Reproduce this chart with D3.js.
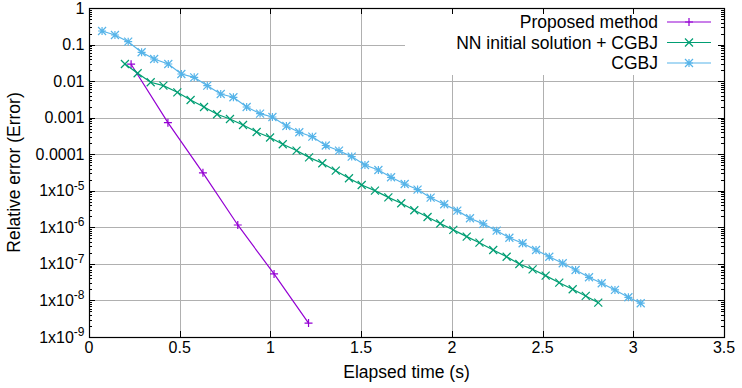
<!DOCTYPE html>
<html>
<head>
<meta charset="utf-8">
<script src="https://cdn.jsdelivr.net/npm/d3@7"></script>
<style>
  body { margin: 0; background: #fff; }
  svg { display: block; font-family: "Liberation Sans", Arial, sans-serif; }
</style>
</head>
<body>
<div id="chart"></div>
<script>
// Series: [elapsed time (s), relative error]
const proposed = [
  [0.232, 0.029], [0.435, 7.3e-4], [0.628, 3.1e-5],
  [0.82, 1.16e-6], [1.02, 5.3e-8], [1.21, 2.4e-9]
];

const nnCgbj = [
  [0.198, 0.0294], [0.268, 0.01637], [0.340, 0.00929], [0.410, 0.0075],
  [0.487, 0.00494], [0.560, 0.00305], [0.634, 0.00196], [0.706, 0.00124],
  [0.777, 9.2e-4], [0.849, 6.3e-4], [0.924, 4.06e-4], [0.998, 2.87e-4],
  [1.068, 1.87e-4], [1.144, 1.26e-4], [1.213, 8.2e-5], [1.286, 5.65e-5],
  [1.360, 3.55e-5], [1.433, 2.2e-5], [1.503, 1.44e-5], [1.576, 1.01e-5],
  [1.650, 6.6e-6], [1.721, 4.55e-6], [1.793, 2.93e-6], [1.866, 1.92e-6],
  [1.936, 1.27e-6], [2.008, 8.5e-7], [2.082, 5.56e-7], [2.152, 3.8e-7],
  [2.228, 2.4e-7], [2.302, 1.57e-7], [2.372, 9.95e-8], [2.445, 7.1e-8],
  [2.517, 4.77e-8], [2.592, 3.06e-8], [2.666, 2.02e-8], [2.738, 1.33e-8],
  [2.807, 8.7e-9]
];

const cgbj = [
  [0.072, 0.235], [0.143, 0.1826], [0.216, 0.1198], [0.290, 0.0614],
  [0.359, 0.0403], [0.437, 0.0294], [0.509, 0.01566], [0.580, 0.0127],
  [0.652, 0.0075], [0.726, 0.00444], [0.796, 0.00361], [0.869, 0.00196],
  [0.943, 0.00129], [1.011, 0.001044], [1.088, 5.92e-4], [1.159, 3.98e-4],
  [1.231, 3.02e-4], [1.305, 1.73e-4], [1.378, 1.25e-4], [1.448, 8.6e-5],
  [1.521, 5.08e-5], [1.595, 3.7e-5], [1.665, 2.34e-5], [1.740, 1.53e-5],
  [1.811, 1.08e-5], [1.883, 6.47e-6], [1.958, 4.27e-6], [2.030, 2.86e-6],
  [2.100, 1.77e-6], [2.173, 1.24e-6], [2.247, 8.1e-7], [2.317, 5.2e-7],
  [2.390, 3.66e-7], [2.464, 2.4e-7], [2.537, 1.57e-7], [2.611, 1.04e-7],
  [2.682, 6.8e-8], [2.756, 4.3e-8], [2.826, 2.95e-8], [2.899, 1.94e-8],
  [2.973, 1.22e-8], [3.041, 8.4e-9]
];

const xTicks = [0, 0.5, 1, 1.5, 2, 2.5, 3, 3.5];
const yTicks = [1, 0.1, 0.01, 0.001, 0.0001, 1e-5, 1e-6, 1e-7, 1e-8, 1e-9];
// [base text, superscript]
const yTickLabels = [
  ['1', ''], ['0.1', ''], ['0.01', ''], ['0.001', ''], ['0.0001', ''],
  ['1x10', '-5'], ['1x10', '-6'], ['1x10', '-7'], ['1x10', '-8'], ['1x10', '-9']
];

const series = [
  { name: 'Proposed method', data: proposed, color: '#9400d3', marker: 'plus' },
  { name: 'NN initial solution + CGBJ', data: nnCgbj, color: '#009e73', marker: 'cross' },
  { name: 'CGBJ', data: cgbj, color: '#56b4e9', marker: 'star' }
];

const W = 742, H = 388;
const margin = { top: 8, right: 18, bottom: 51, left: 89 };
const width = W - margin.left - margin.right;
const height = H - margin.top - margin.bottom;

const svg = d3.select('#chart').append('svg')
  .attr('width', W)
  .attr('height', H);

const g = svg.append('g')
  .attr('transform', `translate(${margin.left},${margin.top})`);

const x = d3.scaleLinear().domain([0, 3.5]).range([0, width]);
const y = d3.scaleLog().domain([1e-9, 1]).range([height, 0]);

const px = v => Math.round(x(v)) + 0.5;
const py = v => Math.round(y(v)) + 0.5;

// Grid
g.append('g').selectAll('line')
  .data(xTicks.slice(1, -1))
  .enter().append('line')
  .attr('x1', d => px(d)).attr('x2', d => px(d))
  .attr('y1', 0).attr('y2', height)
  .attr('stroke', '#b0b0b0').attr('stroke-width', 1);

g.append('g').selectAll('line')
  .data(yTicks.slice(1, -1))
  .enter().append('line')
  .attr('x1', 0).attr('x2', width)
  .attr('y1', d => py(d)).attr('y2', d => py(d))
  .attr('stroke', '#b0b0b0').attr('stroke-width', 1);

// Legend background hides grid behind the key
g.append('rect')
  .attr('x', 316).attr('y', 0)
  .attr('width', width - 316).attr('height', 67)
  .attr('fill', '#fff');

// Ticks (inward, mirrored)
const tickG = g.append('g').attr('stroke', '#000').attr('stroke-width', 1);
xTicks.forEach(t => {
  tickG.append('line').attr('x1', px(t)).attr('x2', px(t)).attr('y1', height).attr('y2', height - 6);
  tickG.append('line').attr('x1', px(t)).attr('x2', px(t)).attr('y1', 0).attr('y2', 6);
});
const minorY = [];
for (let e = -9; e < 0; e++) for (let k = 2; k <= 9; k++) minorY.push(k * Math.pow(10, e));
yTicks.forEach(t => {
  tickG.append('line').attr('x1', 0).attr('x2', 6).attr('y1', py(t)).attr('y2', py(t));
  tickG.append('line').attr('x1', width).attr('x2', width - 6).attr('y1', py(t)).attr('y2', py(t));
});
minorY.forEach(t => {
  tickG.append('line').attr('x1', 0).attr('x2', 3).attr('y1', py(t)).attr('y2', py(t));
  tickG.append('line').attr('x1', width).attr('x2', width - 3).attr('y1', py(t)).attr('y2', py(t));
});

// Frame
g.append('rect')
  .attr('x', 0.5).attr('y', 0.5)
  .attr('width', Math.round(width)).attr('height', Math.round(height))
  .attr('fill', 'none').attr('stroke', '#000').attr('stroke-width', 1.2);

// Tick labels
g.append('g').selectAll('text')
  .data(xTicks)
  .enter().append('text')
  .attr('x', d => x(d))
  .attr('y', height + 16)
  .attr('text-anchor', 'middle')
  .attr('font-size', 16)
  .text(d => d);

const yl = g.append('g').selectAll('text')
  .data(yTicks)
  .enter().append('text')
  .attr('x', -4.5)
  .attr('y', d => y(d) + 5.5)
  .attr('text-anchor', 'end')
  .attr('font-size', 16);
yl.append('tspan').text((d, i) => yTickLabels[i][0]);
yl.append('tspan')
  .attr('font-size', 12)
  .attr('dy', -6.5)
  .text((d, i) => yTickLabels[i][1]);

// Axis titles
svg.append('text')
  .attr('x', margin.left + width / 2)
  .attr('y', 378)
  .attr('text-anchor', 'middle')
  .attr('font-size', 17.5)
  .text('Elapsed time (s)');

svg.append('text')
  .attr('transform', `translate(20,${margin.top + height / 2}) rotate(-90)`)
  .attr('text-anchor', 'middle')
  .attr('font-size', 17.5)
  .text('Relative error (Error)');

// Marker shapes
const r = 4;
const markerPath = {
  plus: `M${-r},0H${r}M0,${-r}V${r}`,
  cross: `M${-r},${-r}L${r},${r}M${-r},${r}L${r},${-r}`,
  star: `M${-r},0H${r}M0,${-r}V${r}M${-r},${-r}L${r},${r}M${-r},${r}L${r},${-r}`
};

const line = d3.line().x(d => x(d[0])).y(d => y(d[1]));

series.forEach(s => {
  g.append('path')
    .datum(s.data)
    .attr('fill', 'none')
    .attr('stroke', s.color)
    .attr('stroke-width', 1.2)
    .attr('d', line);
  g.append('g').selectAll('path')
    .data(s.data)
    .enter().append('path')
    .attr('transform', d => `translate(${x(d[0])},${y(d[1])})`)
    .attr('d', markerPath[s.marker])
    .attr('fill', 'none')
    .attr('stroke', s.color)
    .attr('stroke-width', 1.2);
});

// Legend
const legend = svg.append('g');
series.forEach((s, i) => {
  const ly = 22 + i * 20.5;
  legend.append('text')
    .attr('x', 658)
    .attr('y', ly + 6)
    .attr('text-anchor', 'end')
    .attr('font-size', 17.5)
    .text(s.name);
  legend.append('line')
    .attr('x1', 667).attr('x2', 711)
    .attr('y1', ly).attr('y2', ly)
    .attr('stroke', s.color).attr('stroke-width', 1.2);
  legend.append('path')
    .attr('transform', `translate(689,${ly})`)
    .attr('d', markerPath[s.marker])
    .attr('fill', 'none')
    .attr('stroke', s.color)
    .attr('stroke-width', 1.2);
});
</script>
</body>
</html>
